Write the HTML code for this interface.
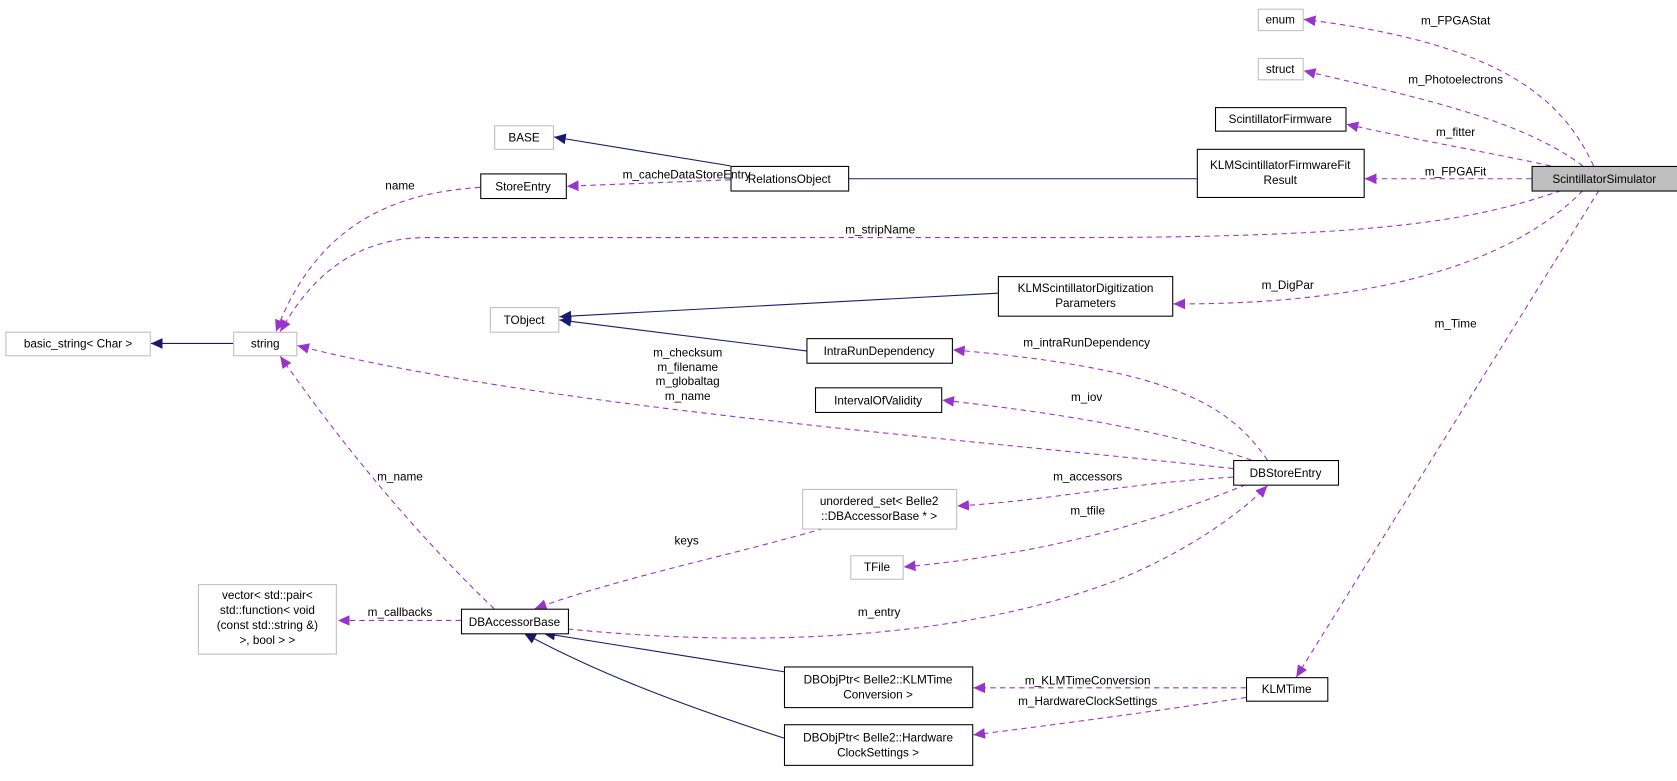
<!DOCTYPE html>
<html><head><meta charset="utf-8"><style>
html,body{margin:0;padding:0;background:#fff;}
svg{display:block;}
text{font-family:"Liberation Sans",Arial,sans-serif;font-size:11px;fill:#000;}
.n{fill:#fff;stroke:#000;stroke-width:1;}
.g{fill:#fff;stroke:#bfbfbf;stroke-width:1;}
.d{fill:none;stroke:#9a32cd;stroke-width:1;stroke-dasharray:5,4;}
.s{fill:none;stroke:#191970;stroke-width:1;}
</style></head><body>
<svg width="1677" height="781" viewBox="0 0 1568 730" xmlns="http://www.w3.org/2000/svg">
<defs>
<marker id="ap" markerUnits="userSpaceOnUse" markerWidth="12" markerHeight="10" refX="11" refY="5" orient="auto"><path d="M0,0 L11,5 L0,10 z" fill="#9a32cd"/></marker>
<marker id="an" markerUnits="userSpaceOnUse" markerWidth="12" markerHeight="10" refX="11" refY="5" orient="auto"><path d="M0,0 L11,5 L0,10 z" fill="#191970"/></marker>
</defs>

<!-- edges -->
<path class="d" marker-end="url(#ap)" d="M1490,155 C1460,90 1400,40 1219,18"/>
<path class="d" marker-end="url(#ap)" d="M1480,155 C1420,110 1320,90 1219,66"/>
<path class="d" marker-end="url(#ap)" d="M1450,155 C1380,140 1320,130 1259,116"/>
<path class="d" marker-end="url(#ap)" d="M1432,167 L1276,167"/>
<path class="d" marker-end="url(#ap)" d="M1460,178 C1380,205 1300,222 1000,222 L400,222 C330,222 290,260 262,310"/>
<path class="d" marker-end="url(#ap)" d="M1480,178 C1420,240 1300,285 1097,284"/>
<path class="d" marker-end="url(#ap)" d="M1495,178 L1212,633"/>
<path class="s" marker-end="url(#an)" d="M683,155 L518,128"/>
<path class="s" d="M1119,167 L793,167"/>
<path class="d" marker-end="url(#ap)" d="M683,168 L530,174"/>
<path class="d" marker-end="url(#ap)" d="M449,175 C380,180 300,200 258,310"/>
<path class="s" marker-end="url(#an)" d="M218,321 L141,321"/>
<path class="s" marker-end="url(#an)" d="M933,274 L523,296"/>
<path class="s" marker-end="url(#an)" d="M754,328 L523,299"/>
<path class="d" marker-end="url(#ap)" d="M1185,430 C1150,380 1100,345 891,327"/>
<path class="d" marker-end="url(#ap)" d="M1170,430 C1080,400 980,385 881,374"/>
<path class="d" marker-end="url(#ap)" d="M1153,438 C900,410 500,380 278,323"/>
<path class="d" marker-end="url(#ap)" d="M1153,446 C1050,452 980,468 895,473"/>
<path class="d" marker-end="url(#ap)" d="M1165,453 C1050,500 950,520 845,530"/>
<path class="d" marker-end="url(#ap)" d="M531,588 C700,605 900,600 1050,540 C1110,515 1160,480 1185,454"/>
<path class="d" marker-end="url(#ap)" d="M770,494 C680,520 580,540 500,569"/>
<path class="d" marker-end="url(#ap)" d="M462,569 C400,510 330,430 262,333"/>
<path class="d" marker-end="url(#ap)" d="M431,580 L316,580"/>
<path class="s" marker-end="url(#an)" d="M733,628 L508,592"/>
<path class="s" marker-end="url(#an)" d="M733,690 C640,660 560,630 490,592"/>
<path class="d" marker-end="url(#ap)" d="M1165,643 L910,643"/>
<path class="d" marker-end="url(#ap)" d="M1165,652 C1080,665 990,677 910,687"/>

<!-- nodes -->
<rect class="g" x="1176.5" y="8.5" width="42" height="20"/><text x="1197" y="22" text-anchor="middle">enum</text>
<rect class="g" x="1176.5" y="54.5" width="42" height="20"/><text x="1197" y="68" text-anchor="middle">struct</text>
<rect class="n" x="1136.5" y="100.5" width="122" height="22"/><text x="1197" y="115" text-anchor="middle">ScintillatorFirmware</text>
<rect class="n" x="1119.5" y="139.5" width="156" height="45"/><text x="1197" y="158" text-anchor="middle">KLMScintillatorFirmwareFit</text><text x="1197" y="172" text-anchor="middle">Result</text>
<rect x="1432.5" y="155.5" width="136" height="23" fill="#bfbfbf" stroke="#000"/><text x="1500" y="171" text-anchor="middle">ScintillatorSimulator</text>
<rect class="g" x="462.5" y="117.5" width="55" height="22"/><text x="490" y="132" text-anchor="middle">BASE</text>
<rect class="n" x="683.5" y="155.5" width="110" height="23"/><text x="738" y="171" text-anchor="middle">RelationsObject</text>
<rect class="n" x="449.5" y="162.5" width="80" height="23"/><text x="489" y="178" text-anchor="middle">StoreEntry</text>
<rect class="g" x="218.5" y="310.5" width="59" height="22"/><text x="248" y="325" text-anchor="middle">string</text>
<rect class="g" x="5.5" y="310.5" width="135" height="22"/><text x="73" y="325" text-anchor="middle">basic_string&lt; Char &gt;</text>
<rect class="g" x="458.5" y="287.5" width="64" height="23"/><text x="490" y="303" text-anchor="middle">TObject</text>
<rect class="n" x="933.5" y="258.5" width="163" height="37"/><text x="1015" y="273" text-anchor="middle">KLMScintillatorDigitization</text><text x="1015" y="287" text-anchor="middle">Parameters</text>
<rect class="n" x="754.5" y="316.5" width="136" height="23"/><text x="822" y="332" text-anchor="middle">IntraRunDependency</text>
<rect class="n" x="762.5" y="362.5" width="118" height="23"/><text x="821" y="378" text-anchor="middle">IntervalOfValidity</text>
<rect class="n" x="1153.5" y="430.5" width="98" height="23"/><text x="1202" y="446" text-anchor="middle">DBStoreEntry</text>
<rect class="g" x="750.5" y="457.5" width="144" height="37"/><text x="822" y="472" text-anchor="middle">unordered_set&lt; Belle2</text><text x="822" y="486" text-anchor="middle">::DBAccessorBase * &gt;</text>
<rect class="g" x="795.5" y="519.5" width="49" height="22"/><text x="820" y="534" text-anchor="middle">TFile</text>
<rect class="g" x="185.5" y="546.5" width="129" height="65"/>
<text x="250" y="560" text-anchor="middle">vector&lt; std::pair&lt;</text>
<text x="250" y="574" text-anchor="middle">std::function&lt; void</text>
<text x="250" y="588" text-anchor="middle">(const std::string &amp;)</text>
<text x="250" y="602" text-anchor="middle">&gt;, bool &gt; &gt;</text>
<rect class="n" x="431.5" y="569.5" width="100" height="23"/><text x="481" y="585" text-anchor="middle">DBAccessorBase</text>
<rect class="n" x="733.5" y="623.5" width="176" height="38"/><text x="821" y="639" text-anchor="middle">DBObjPtr&lt; Belle2::KLMTime</text><text x="821" y="653" text-anchor="middle">Conversion &gt;</text>
<rect class="n" x="1165.5" y="633.5" width="76" height="22"/><text x="1203" y="648" text-anchor="middle">KLMTime</text>
<rect class="n" x="733.5" y="677.5" width="176" height="38"/><text x="821" y="693" text-anchor="middle">DBObjPtr&lt; Belle2::Hardware</text><text x="821" y="707" text-anchor="middle">ClockSettings &gt;</text>

<!-- edge labels -->
<text x="1361" y="23" text-anchor="middle">m_FPGAStat</text>
<text x="1361" y="78" text-anchor="middle">m_Photoelectrons</text>
<text x="1361" y="127" text-anchor="middle">m_fitter</text>
<text x="1361" y="164" text-anchor="middle">m_FPGAFit</text>
<text x="823" y="218" text-anchor="middle">m_stripName</text>
<text x="1204" y="270" text-anchor="middle">m_DigPar</text>
<text x="1361" y="306" text-anchor="middle">m_Time</text>
<text x="642" y="167" text-anchor="middle">m_cacheDataStoreEntry</text>
<text x="374" y="177" text-anchor="middle">name</text>
<text x="1016" y="324" text-anchor="middle">m_intraRunDependency</text>
<text x="1016" y="375" text-anchor="middle">m_iov</text>
<text x="643" y="333" text-anchor="middle">m_checksum</text>
<text x="643" y="347" text-anchor="middle">m_filename</text>
<text x="643" y="360" text-anchor="middle">m_globaltag</text>
<text x="643" y="374" text-anchor="middle">m_name</text>
<text x="1017" y="449" text-anchor="middle">m_accessors</text>
<text x="1017" y="481" text-anchor="middle">m_tfile</text>
<text x="642" y="509" text-anchor="middle">keys</text>
<text x="374" y="449" text-anchor="middle">m_name</text>
<text x="374" y="576" text-anchor="middle">m_callbacks</text>
<text x="822" y="576" text-anchor="middle">m_entry</text>
<text x="1017" y="640" text-anchor="middle">m_KLMTimeConversion</text>
<text x="1017" y="659" text-anchor="middle">m_HardwareClockSettings</text>
</svg>
</body></html>
